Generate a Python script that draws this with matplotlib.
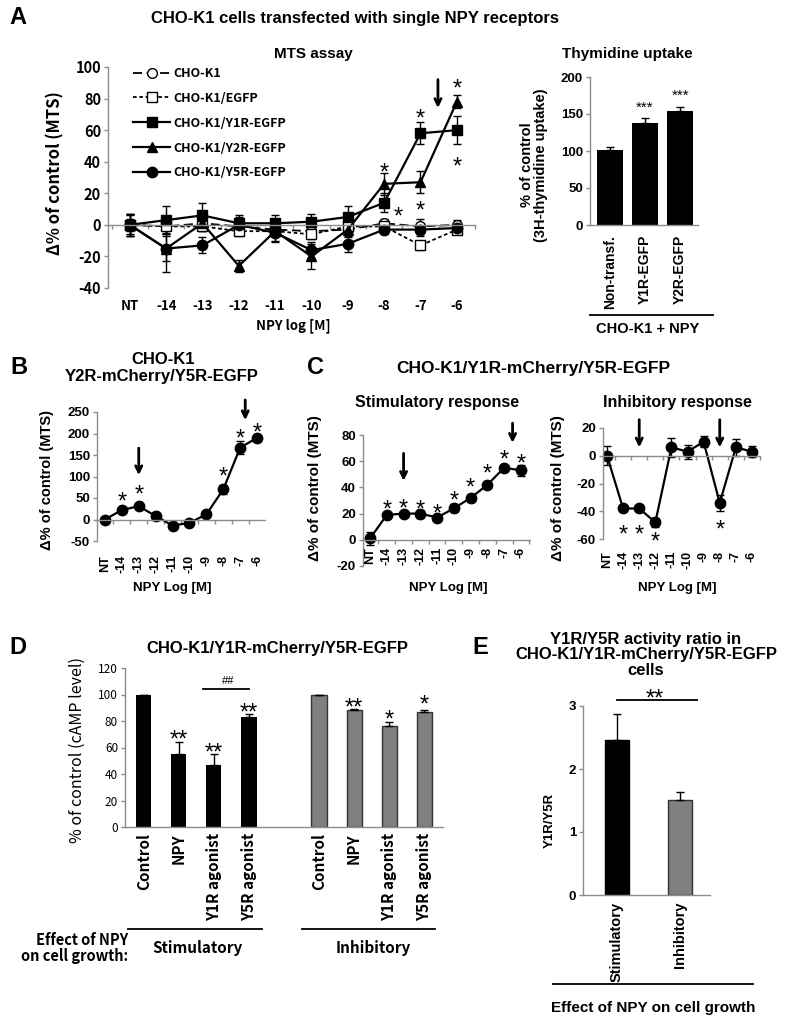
import matplotlib
matplotlib.use('Agg')
import matplotlib.pyplot as plt
from matplotlib.transforms import blended_transform_factory

plt.rcParams['font.family'] = ['Liberation Sans', 'DejaVu Sans']
plt.rcParams['font.weight'] = 'bold'
KR = ['Noto Sans CJK KR', 'DejaVu Sans']

# ------------------------------------------------------------------ data
dose_labels = ['NT', '-14', '-13', '-12', '-11', '-10', '-9', '-8', '-7', '-6']

a_names = ['CHO-K1', 'CHO-K1/EGFP', 'CHO-K1/Y1R-EGFP', 'CHO-K1/Y2R-EGFP', 'CHO-K1/Y5R-EGFP']
a_cho = [0, -1, 1, -1, -3, -4, -3, 1, -1, 0]
a_cho_err = [6, 5, 4, 4, 4, 3, 3, 3, 5, 3]
a_egfp = [0, -1, -1, -4, -4, -6, -1, -1, -13, -3]
a_egfp_err = [4, 4, 3, 3, 3, 3, 3, 3, 3, 3]
a_y1r = [0, 3, 6, 1, 1, 2, 5, 14, 58, 60]
a_y1r_err = [7, 9, 8, 5, 5, 5, 7, 6, 7, 9]
a_y2r = [0, -15, 1, -26, -4, -20, -3, 26, 27, 78]
a_y2r_err = [7, 8, 5, 4, 6, 8, 5, 7, 7, 4]
a_y5r = [0, -15, -13, 0, -5, -16, -12, -3, -3, -2]
a_y5r_err = [7, 15, 5, 5, 6, 5, 5, 3, 4, 4]
a_stars = [(7, 37), (7.38, 9), (8, 71), (8, 13), (9, 90), (9, 41)]
a_arrows = [(8.48, 92, 74)]

thy_labels = ['Non-transf.', 'Y1R-EGFP', 'Y2R-EGFP']
thy_vals = [102, 138, 154]
thy_err = [4, 6, 6]
thy_stars = [(1, 165), (2, 181)]

b_vals = [0, 22, 31, 8, -14, -8, 12, 70, 167, 190]
b_err = [3, 4, 5, 10, 4, 3, 6, 10, 15, 5]
b_stars = [(1, 56), (2, 72), (7, 114), (8, 203), (9, 217)]
b_arrows = [(2, 166, 103), (8.3, 278, 231)]

c_stim = [1, 19, 20, 20, 17, 24, 32, 42, 55, 53]
c_stim_err = [5, 2, 2, 3, 2, 3, 3, 2, 2, 4]
c_stim_stars = [(1, 28), (2, 29), (3, 28), (4, 25), (5, 35), (6, 45), (7, 55), (8, 66), (9, 63)]
c_stim_arrows = [(2, 66, 45), (8.5, 89, 74)]

c_inh = [0, -38, -38, -48, 6, 3, 10, -34, 6, 3]
c_inh_err = [7, 1, 1, 3, 7, 5, 4, 6, 6, 4]
c_inh_stars = [(1, -52), (2, -52), (3, -57), (7, -49)]
c_inh_arrows = [(2, 26, 6), (7, 26, 6)]

d_labels = ['Control', 'NPY', 'Y1R agonist', 'Y5R agonist']
d_stim = [100, 55, 47, 83]
d_stim_err = [0, 9, 8, 2]
d_inh = [100, 88, 76, 87]
d_inh_err = [0, 1, 3, 1]
d_stim_sig = [(1, 71, '**'), (2, 61, '**'), (3, 91, '**')]
d_inh_sig = [(1, 95, '**'), (2, 86, '*'), (3, 97, '*')]

e_labels = ['Stimulatory', 'Inhibitory']
e_vals = [2.46, 1.51]
e_err = [0.42, 0.12]

# ------------------------------------------------------------------ helpers
W, H = 785, 1035
fig = plt.figure(figsize=(W / 100, H / 100), dpi=100)
AXC = '#8c8c8c'


def add_ax(l, t, r, b):
    ax = fig.add_axes([l / W, 1 - b / H, (r - l) / W, (b - t) / H])
    for s in ['top', 'right']:
        ax.spines[s].set_visible(False)
    for s in ['left', 'bottom']:
        ax.spines[s].set_color(AXC)
        ax.spines[s].set_linewidth(1.0)
    ax.tick_params(colors=AXC, length=3, width=1, labelcolor='black', pad=2)
    ax.patch.set_alpha(0)
    return ax


def ftext(px, py, s, **kw):
    return fig.text(px / W, 1 - py / H, s, **kw)


def xlabels_at(ax, labels, positions, top_px, rotation=90, fs=9, va='top', family=None):
    tr = blended_transform_factory(ax.transData, fig.transFigure)
    for p, lab in zip(positions, labels):
        kw = {}
        if family:
            kw['family'] = family
        ax.text(p, 1 - top_px / H, lab, rotation=rotation, ha='center', va=va,
                fontsize=fs, fontweight='bold', transform=tr, **kw)


def star(ax, x, y, s='*', fs=17):
    ax.annotate(s, xy=(x, y), xytext=(0, -0.56 * fs), textcoords='offset points',
                ha='center', va='baseline', fontsize=fs, fontweight='normal',
                annotation_clip=False)


def arrow(ax, x, y0, y1):
    ax.annotate('', xy=(x, y1), xytext=(x, y0),
                arrowprops=dict(arrowstyle='->,head_length=0.45,head_width=0.22',
                                lw=2.0, color='black', shrinkA=0, shrinkB=0),
                annotation_clip=False)


def zero_axis(ax, n=10):
    ax.spines['bottom'].set_position(('data', 0))
    lo, hi = ax.get_xlim()
    ticks = [i + 0.5 for i in range(-1, n) if lo <= i + 0.5 <= hi]
    ax.set_xticks(ticks)
    ax.set_xticklabels([])
    ax.tick_params(axis='x', length=3)


def yfmt(ax, ticks, fs=9, family=None, weight='bold'):
    ax.set_yticks(ticks)
    kw = dict(fontsize=fs, fontweight=weight)
    if family:
        kw['family'] = family
    ax.set_yticklabels([str(t) for t in ticks], **kw)


xs = list(range(len(dose_labels)))

# ================================================================== Panel A
ftext(18, 18, 'A', fontsize=17, ha='center', va='center')
ftext(355, 18, 'CHO-K1 cells transfected with single NPY receptors', fontsize=12,
      ha='center', va='center')

axA = add_ax(108, 67, 475, 288)
axA.set_xlim(-0.6, 9.5)
axA.set_ylim(-40, 100)
zero_axis(axA)
yfmt(axA, [-40, -20, 0, 20, 40, 60, 80, 100], fs=10.5, family=KR)

styles = [
    (a_cho, a_cho_err, dict(ls=(0, (5, 2.5)), marker='o', mfc='white', ms=7, lw=1.3)),
    (a_egfp, a_egfp_err, dict(ls=(0, (2, 1.5)), marker='s', mfc='white', ms=6.5, lw=1.3)),
    (a_y1r, a_y1r_err, dict(ls='-', marker='s', mfc='black', ms=6.5, lw=1.6)),
    (a_y2r, a_y2r_err, dict(ls='-', marker='^', mfc='black', ms=6.5, lw=1.6)),
    (a_y5r, a_y5r_err, dict(ls='-', marker='o', mfc='black', ms=7.5, lw=1.6)),
]
handles = []
for (v, e, st), name in zip(styles, a_names):
    cont = axA.errorbar(xs, v, yerr=e, color='black', mec='black', capsize=3,
                        elinewidth=1, capthick=1, label=name, **st)
    handles.append(cont[0])
leg = axA.legend(handles, a_names, loc='upper left', bbox_to_anchor=(0.068, 1.0),
                 frameon=False, borderpad=0, borderaxespad=0, handlelength=3.0,
                 handletextpad=0.25, labelspacing=0.95,
                 prop=dict(family=KR, weight='bold', size=9))
for x, y in a_stars:
    star(axA, x, y)
for x, y0, y1 in a_arrows:
    arrow(axA, x, y0, y1)
xlabels_at(axA, dose_labels, xs, 306, rotation=0, fs=9.5, va='center', family=KR)
ftext(313, 54, 'MTS assay', fontsize=11, ha='center', va='center')
ftext(55, 173, 'Δ% of control (MTS)', fontsize=12, rotation=90, ha='center',
      va='center', family=KR)
ftext(293, 326, 'NPY log [M]', fontsize=9.5, ha='center', va='center', family=KR)

# ---- thymidine
axT = add_ax(590, 77, 698, 225)
axT.set_xlim(-0.57, 2.51)
axT.set_ylim(0, 200)
tpos = list(range(len(thy_labels)))
axT.bar(tpos, thy_vals, width=0.74, color='black',
        yerr=[[0] * len(thy_err), thy_err],
        error_kw=dict(ecolor='black', capsize=3, elinewidth=1, capthick=1))
axT.set_xticks([])
yfmt(axT, [0, 50, 100, 150, 200], fs=9.5)
for x, y in thy_stars:
    star(axT, x, y, s='***', fs=11)
xlabels_at(axT, thy_labels, tpos, 235, fs=10)
ftext(627, 54, 'Thymidine uptake', fontsize=11, ha='center', va='center')
ftext(534, 165, '% of control\n(3H-thymidine uptake)', fontsize=10.5, rotation=90,
      ha='center', va='center', linespacing=1.0)
fig.add_artist(plt.Line2D([590 / W, 713 / W], [1 - 315 / H] * 2, color='black', lw=1.3))
ftext(648, 329, 'CHO-K1 + NPY', fontsize=10.5, ha='center', va='center')

# ================================================================== Panel B
ftext(19, 367, 'B', fontsize=17, ha='center', va='center')
ftext(163, 360, 'CHO-K1', fontsize=12, ha='center', va='center')
ftext(162, 377, 'Y2R-mCherry/Y5R-EGFP', fontsize=12, ha='center', va='center')
axB = add_ax(97, 412, 265, 541)
axB.set_xlim(-0.47, 9.47)
axB.set_ylim(-50, 250)
zero_axis(axB)
yfmt(axB, [-50, 0, 50, 100, 150, 200, 250], fs=9.5)
axB.errorbar(xs, b_vals, yerr=b_err, color='black', marker='o', ms=7.5, lw=1.6,
             capsize=3, elinewidth=1, capthick=1)
for x, y in b_stars:
    star(axB, x, y)
for x, y0, y1 in b_arrows:
    arrow(axB, x, y0, y1)
xlabels_at(axB, dose_labels, xs, 555)
ftext(47, 480, 'Δ% of control (MTS)', fontsize=10.5, rotation=90, ha='center', va='center')
ftext(172, 588, 'NPY Log [M]', fontsize=9.5, ha='center', va='center')

# ================================================================== Panel C
ftext(315, 367, 'C', fontsize=17, ha='center', va='center')
ftext(533, 368, 'CHO-K1/Y1R-mCherry/Y5R-EGFP', fontsize=12.5, ha='center', va='center')

axC1 = add_ax(363, 435, 530, 566)
axC1.set_xlim(-0.42, 9.54)
axC1.set_ylim(-20, 80)
zero_axis(axC1)
yfmt(axC1, [-20, 0, 20, 40, 60, 80], fs=9.5)
axC1.errorbar(xs, c_stim, yerr=c_stim_err, color='black', marker='o', ms=7.5, lw=1.6,
              capsize=3, elinewidth=1, capthick=1)
for x, y in c_stim_stars:
    star(axC1, x, y)
for x, y0, y1 in c_stim_arrows:
    arrow(axC1, x, y0, y1)
xlabels_at(axC1, dose_labels, xs, 547)
ftext(437, 402, 'Stimulatory response', fontsize=11.5, ha='center', va='center')
ftext(315, 488, 'Δ% of control (MTS)', fontsize=11, rotation=90, ha='center', va='center')
ftext(448, 588, 'NPY Log [M]', fontsize=9.5, ha='center', va='center')

axC2 = add_ax(603, 428, 760, 539)
axC2.set_xlim(-0.25, 9.5)
axC2.set_ylim(-60, 20)
zero_axis(axC2)
yfmt(axC2, [-60, -40, -20, 0, 20], fs=9.5)
axC2.errorbar(xs, c_inh, yerr=c_inh_err, color='black', marker='o', ms=7.5, lw=1.6,
              capsize=3, elinewidth=1, capthick=1)
for x, y in c_inh_stars:
    star(axC2, x, y)
for x, y0, y1 in c_inh_arrows:
    arrow(axC2, x, y0, y1)
xlabels_at(axC2, dose_labels, xs, 551)
ftext(677, 402, 'Inhibitory response', fontsize=11.5, ha='center', va='center')
ftext(558, 488, 'Δ% of control (MTS)', fontsize=11, rotation=90, ha='center', va='center')
ftext(677, 588, 'NPY Log [M]', fontsize=9.5, ha='center', va='center')

# ================================================================== Panel D
ftext(18, 648, 'D', fontsize=17, ha='center', va='center')
ftext(277, 648, 'CHO-K1/Y1R-mCherry/Y5R-EGFP', fontsize=12, ha='center', va='center')
axD = add_ax(125, 668, 443, 827)
axD.set_xlim(-0.54, 8.54)
axD.set_ylim(0, 120)
pos_s = list(range(len(d_labels)))
pos_i = [p + len(d_labels) + 1 for p in pos_s]
axD.bar(pos_s, d_stim, width=0.43, color='black',
        yerr=[[0] * len(d_stim_err), d_stim_err],
        error_kw=dict(ecolor='black', capsize=3, elinewidth=1, capthick=1))
axD.bar(pos_i, d_inh, width=0.43, color='#808080', edgecolor='#333333', lw=1,
        yerr=[[0] * len(d_inh_err), d_inh_err],
        error_kw=dict(ecolor='black', capsize=3, elinewidth=1, capthick=1))
axD.set_xticks([])
yfmt(axD, [0, 20, 40, 60, 80, 100, 120], fs=8.5, family=KR, weight='normal')
for i, y, s in d_stim_sig:
    star(axD, pos_s[i], y, s=s)
for i, y, s in d_inh_sig:
    star(axD, pos_i[i], y, s=s)
axD.plot([1.69, 3.0], [104, 104], color='black', lw=1.3, clip_on=False)
axD.text(2.4, 110, '##', ha='center', va='center', fontsize=8, fontweight='normal')
xlabels_at(axD, d_labels, pos_s, 833, fs=11, family=KR)
xlabels_at(axD, d_labels, pos_i, 833, fs=11, family=KR)
ftext(77, 750, '% of control (cAMP level)', fontsize=11.5, rotation=90, ha='center',
      va='center', family=KR, fontweight='normal')
fig.add_artist(plt.Line2D([128 / W, 262 / W], [1 - 929 / H] * 2, color='black', lw=1.3))
fig.add_artist(plt.Line2D([302 / W, 435 / W], [1 - 929 / H] * 2, color='black', lw=1.3))
ftext(128, 948, 'Effect of NPY\non cell growth:', fontsize=10.5, ha='right', va='center',
      family=KR, linespacing=0.95)
ftext(197, 948, 'Stimulatory', fontsize=11, ha='center', va='center', family=KR)
ftext(373, 948, 'Inhibitory', fontsize=11, ha='center', va='center', family=KR)

# ================================================================== Panel E
ftext(480, 648, 'E', fontsize=17, ha='center', va='center')
ftext(646, 655, 'Y1R/Y5R activity ratio in\nCHO-K1/Y1R-mCherry/Y5R-EGFP\ncells',
      fontsize=12, ha='center', va='center', linespacing=1.05)
axE = add_ax(583, 706, 710, 895)
axE.set_xlim(-0.54, 1.48)
axE.set_ylim(0, 3)
epos = list(range(len(e_labels)))
axE.bar(epos, e_vals, width=0.38, color=['black', '#808080'],
        edgecolor=['black', '#333333'], lw=1,
        yerr=[[0] * len(e_err), e_err],
        error_kw=dict(ecolor='black', capsize=3, elinewidth=1, capthick=1))
axE.set_xticks([])
yfmt(axE, [0, 1, 2, 3], fs=9.5)
axE.plot([0.0, 1.27], [3.1, 3.1], color='black', lw=1.3, clip_on=False)
star(axE, 0.6, 3.22, s='**')
xlabels_at(axE, e_labels, epos, 902, fs=10.5)
ftext(550, 820, 'Y1R/Y5R', fontsize=9.5, rotation=90, ha='center', va='center')
fig.add_artist(plt.Line2D([553 / W, 753 / W], [1 - 984 / H] * 2, color='black', lw=1.3))
ftext(653, 1008, 'Effect of NPY on cell growth', fontsize=11, ha='center', va='center')

fig.savefig('out.png', dpi=100)
